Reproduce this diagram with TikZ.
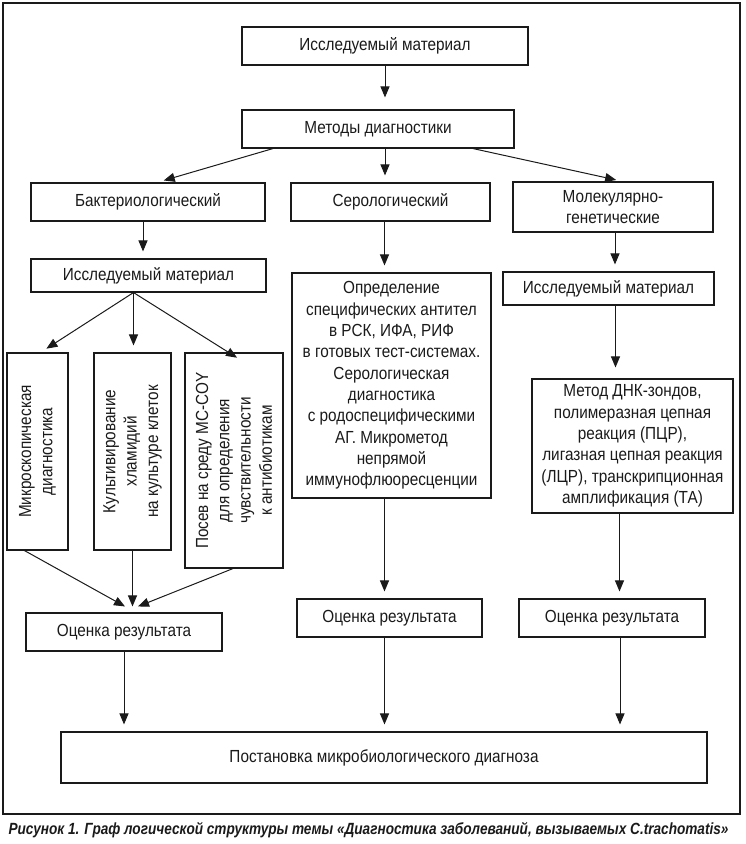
\documentclass[tikz,border=0pt]{standalone}
\usepackage{fontspec}
\setmainfont{Liberation Sans}[FakeStretch=0.875]
\newfontfamily\capfont{Liberation Sans}[FakeStretch=0.84]
\usepackage{xcolor}
\definecolor{cLine}{HTML}{1A1A1A}
\usepackage{tikz}
\usetikzlibrary{arrows.meta}
\tikzset{
  node-box/.style={draw=cLine,line width=1.1pt,align=center,inner sep=2pt,
    text=cLine,font=\fontsize{17.5}{21.3}\selectfont},
  node-side/.style={node-box,rotate=90},
  arrow/.style={-{Triangle[length=11pt,width=9pt]},line width=1pt,
    draw=cLine,shorten >=7pt},
  frame/.style={draw=cLine,line width=1.2pt},
}

\begin{document}
\begin{tikzpicture}[x=1pt,y=1pt]
  \useasboundingbox (0,0) rectangle (745,-844);
  \draw[frame] (3,-3) rectangle (740,-814);

  % top of the graph
  \node[node-box,minimum width=286pt,minimum height=38pt] (mat-top) at (385,-46) {Исследуемый материал};
  \node[node-box,minimum width=272pt,minimum height=38pt] (methods) at (378,-129) {Методы диагностики};
  \node[node-box,minimum width=234pt,minimum height=38pt] (bact) at (148,-202) {Бактериологический};
  \node[node-box,minimum width=199pt,minimum height=38pt] (sero) at (390.5,-202) {Серологический};
  \node[node-box,minimum width=200pt,minimum height=50pt] (molec) at (613,-207) {Молекулярно-\\генетические};

  % bacteriological branch
  \node[node-box,minimum width=235pt,minimum height=33pt] (mat-bact) at (148.5,-275.5) {Исследуемый материал};
  \node[node-side,minimum width=197pt,minimum height=61pt] (micro) at (37.5,-451.5) {Микроскопическая\\диагностика};
  \node[node-side,minimum width=197pt,minimum height=77pt] (cult) at (132.5,-451.5) {Культивирование\\хламидий\\на культуре клеток};
  \node[node-side,minimum width=215pt,minimum height=98pt] (posev) at (234,-460.5) {Посев на среду MC-COY\\для определения\\чувствительности\\к антибиотикам};
  \node[node-box,minimum width=196pt,minimum height=38pt] (eval-bact) at (124,-632) {Оценка результата};

  % serological branch
  \node[node-box,minimum width=199pt,minimum height=225pt] (sero-det) at (391.5,-385.5)
    {Определение\\специфических антител\\в РСК, ИФА, РИФ\\в готовых тест-системах.\\Серологическая\\диагностика\\с родоспецифическими\\АГ. Микрометод\\непрямой\\иммунофлюоресценции};
  \node[node-box,minimum width=185pt,minimum height=38pt] (eval-sero) at (389.5,-618) {Оценка результата};

  % molecular branch
  \node[node-box,minimum width=211pt,minimum height=33pt] (mat-molec) at (608.5,-288.5) {Исследуемый материал};
  \node[node-box,minimum width=201pt,minimum height=134pt] (dna) at (632.5,-446)
    {Метод ДНК-зондов,\\полимеразная цепная\\реакция (ПЦР),\\лигазная цепная реакция\\(ЛЦР), транскрипционная\\амплификация (ТА)};
  \node[node-box,minimum width=186pt,minimum height=38pt] (eval-molec) at (612,-618) {Оценка результата};

  \node[node-box,minimum width=646pt,minimum height=51pt] (diag) at (384,-757.5) {Постановка микробиологического диагноза};

  % arrows
  \draw[arrow,shorten >=12pt] (mat-top.south) -- (mat-top.south |- methods.north);
  \draw[arrow] ([xshift=-105pt]methods.south) -- ([xshift=9pt]bact.north);
  \draw[arrow] ([xshift=7pt]methods.south) -- ([xshift=7pt]methods.south |- sero.north);
  \draw[arrow] ([xshift=95pt]methods.south) -- ([xshift=10pt]molec.north);

  \draw[arrow] ([xshift=-5pt]bact.south) -- ([xshift=-5pt]bact.south |- mat-bact.north);
  \coordinate (fan) at ([xshift=-15pt]mat-bact.south);
  \draw[arrow] (fan) -- ([xshift=3pt]micro.east);
  \draw[arrow] (fan) -- (fan |- cult.east);
  \draw[arrow] (fan) -- ([xshift=9pt,yshift=-9pt]posev.east);

  \coordinate (join) at ([yshift=6pt]eval-bact.north);
  \draw[arrow,shorten >=0pt] ([xshift=18pt]micro.north west) -- ([xshift=1pt]join);
  \draw[arrow,shorten >=0pt] (cult.west) -- (cult.west |- join);
  \draw[arrow,shorten >=0pt] ([xshift=-1pt]posev.west) -- ([xshift=14pt]join);
  \draw[arrow] (eval-bact.south) -- (eval-bact.south |- diag.north);

  \draw[arrow] ([xshift=-6pt]sero.south) -- ([xshift=-6pt]sero.south |- sero-det.north);
  \draw[arrow] ([xshift=-7pt]sero-det.south) -- ([xshift=-7pt]sero-det.south |- eval-sero.north);
  \draw[arrow] ([xshift=-5pt]eval-sero.south) -- ([xshift=-5pt]eval-sero.south |- diag.north);

  \draw[arrow] ([xshift=2pt]molec.south) -- ([xshift=2pt]molec.south |- mat-molec.north);
  \draw[arrow,shorten >=11pt] ([xshift=7pt]mat-molec.south) -- ([xshift=7pt]mat-molec.south |- dna.north);
  \draw[arrow] ([xshift=-13pt]dna.south) -- ([xshift=-13pt]dna.south |- eval-molec.north);
  \draw[arrow] ([xshift=8pt]eval-molec.south) -- ([xshift=8pt]eval-molec.south |- diag.north);

  \node[font=\capfont\bfseries\itshape\fontsize{16.2}{18}\selectfont,text=cLine,anchor=west] (caption) at (5,-830)
    {Рисунок 1. Граф логической структуры темы «Диагностика заболеваний, вызываемых C.trachomatis»};
\end{tikzpicture}
\end{document}
